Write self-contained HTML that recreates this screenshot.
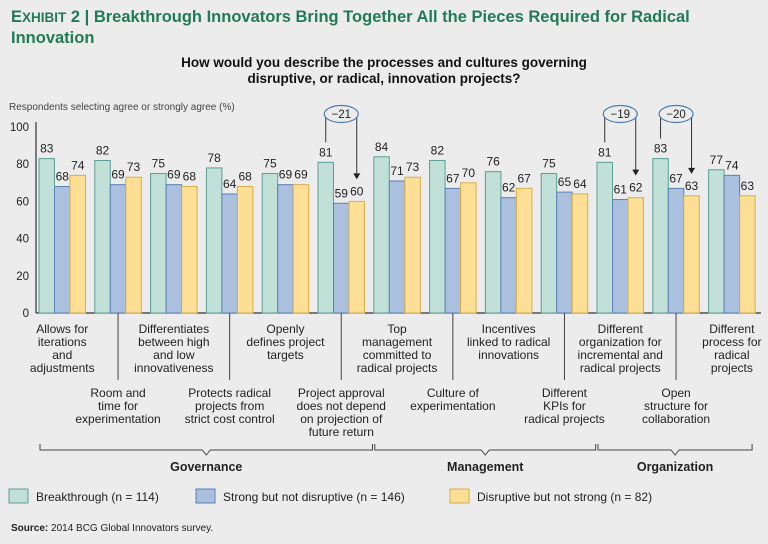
<!DOCTYPE html>
<html><head><meta charset="utf-8"><style>
body{margin:0;background:#ececec;}
svg{display:block;font-family:"Liberation Sans",sans-serif;}
</style></head><body>
<svg id="chart" width="768" height="544" viewBox="0 0 768 544">
<rect width="768" height="544" fill="#ececec"/>
<text x="11" y="22" font-size="16.5" font-weight="bold" fill="#217a58"><tspan>E</tspan><tspan font-size="13.5">XHIBIT</tspan> 2 | Breakthrough Innovators Bring Together All the Pieces Required for Radical</text>
<text x="11" y="43" font-size="16.5" font-weight="bold" fill="#217a58">Innovation</text>
<text x="384" y="67" font-size="13.5" font-weight="bold" text-anchor="middle" fill="#111">How would you describe the processes and cultures governing</text>
<text x="384" y="83" font-size="13.5" font-weight="bold" text-anchor="middle" fill="#111">disruptive, or radical, innovation projects?</text>
<text x="9" y="110" font-size="10" fill="#444">Respondents selecting agree or strongly agree (%)</text>
<g id="plot"></g>
<text x="11" y="531" font-size="10" fill="#222"><tspan font-weight="bold">Source:</tspan> 2014 BCG Global Innovators survey.</text>
</svg>
<script>
const categories=["Allows for iterations and adjustments","Room and time for experimentation","Differentiates between high and low innovativeness","Protects radical projects from strict cost control","Openly defines project targets","Project approval does not depend on projection of future return","Top management committed to radical projects","Culture of experimentation","Incentives linked to radical innovations","Different KPIs for radical projects","Different organization for incremental and radical projects","Open structure for collaboration","Different process for radical projects"];
const breakthrough=[83,82,75,78,75,81,84,82,76,75,81,83,77];
const strongNotDisruptive=[68,69,69,64,69,59,71,67,62,65,61,67,74];
const disruptiveNotStrong=[74,73,68,68,69,60,73,70,67,64,62,63,63];
const yTicks=[0,20,40,60,80,100];
const labelLines=[["Allows for","iterations","and","adjustments"],["Room and","time for","experimentation"],["Differentiates","between high","and low","innovativeness"],["Protects radical","projects from","strict cost control"],["Openly","defines project","targets"],["Project approval","does not depend","on projection of","future return"],["Top","management","committed to","radical projects"],["Culture of","experimentation"],["Incentives","linked to radical","innovations"],["Different","KPIs for","radical projects"],["Different","organization for","incremental and","radical projects"],["Open","structure for","collaboration"],["Different","process for","radical","projects"]];
const callouts=[{g:5,label:"\u221221"},{g:10,label:"\u221219"},{g:11,label:"\u221220"}];
const sections=[{name:"Governance",from:0,to:5},{name:"Management",from:6,to:9},{name:"Organization",from:10,to:12}];
const seriesNames=["Breakthrough (n = 114)","Strong but not disruptive (n = 146)","Disruptive but not strong (n = 82)"];

const NS="http://www.w3.org/2000/svg";
const plot=document.getElementById('plot');
function el(tag,attrs,parent,text){const e=document.createElementNS(NS,tag);for(const k in attrs)e.setAttribute(k,attrs[k]);if(text!==undefined)e.textContent=text;(parent||plot).appendChild(e);return e;}
const y0=313,y100=127;
function yScale(v){return y0-(y0-y100)*v/100;}
const gx0=39,pitch=55.8,bw=15.5;
function xBar(g,s){return gx0+pitch*g+bw*s;}
const fills=["#c0e0d8","#aac0de","#fde095"],strokes=["#5d9f95","#5a82b4","#d9ad4c"];
const series=[breakthrough,strongNotDisruptive,disruptiveNotStrong];
let a=el('line',{x1:36,y1:y0,x2:761,y2:y0,stroke:'#333','stroke-width':1.2});


a=el('line',{x1:36,y1:y100-5,x2:36,y2:y0,stroke:'#333','stroke-width':1.2});


yTicks.forEach(t=>{const tx=el('text',{x:29,y:yScale(t)+4,'font-size':11.5,'text-anchor':'end',fill:'#222'},plot,String(t));

});
series.forEach((arr,s)=>{arr.forEach((v,g)=>{const x=xBar(g,s),y=yScale(v);
const r=el('rect',{x:x,y:y,width:bw,height:y0-y,fill:fills[s],stroke:strokes[s],'stroke-width':1});


const t=el('text',{x:x+bw/2,y:y-6,'font-size':12,'text-anchor':'middle',fill:'#222'},plot,String(v));

});});
categories.forEach((c,g)=>{const cx=xBar(g,1)+bw/2;
if(g%2===1){const l=el('line',{x1:cx,y1:y0,x2:cx,y2:380,stroke:'#444','stroke-width':1});

}
const baseY=g%2===0?333:397;
const t=el('text',{x:cx,y:baseY,'font-size':12,'text-anchor':'middle',fill:'#222'});


labelLines[g].forEach((ln,i)=>{el('tspan',{x:cx,dy:i===0?0:13},t,ln);});});
callouts.forEach(c=>{const xl=xBar(c.g,0)+bw/2,xr=xBar(c.g,2)+bw/2,cx=(xl+xr)/2,cy=114;
const gg=el('g',{});


el('line',{x1:xl,y1:cy,x2:xl,y2:yScale(breakthrough[c.g])-20,stroke:'#333','stroke-width':1},gg);
const yt=yScale(disruptiveNotStrong[c.g])-22;
el('line',{x1:xr,y1:cy,x2:xr,y2:yt-4,stroke:'#333','stroke-width':1},gg);
el('path',{d:`M${xr-3.5} ${yt-6}L${xr+3.5} ${yt-6}L${xr} ${yt}Z`,fill:'#222'},gg);
el('ellipse',{cx:cx,cy:cy,rx:17,ry:8.5,fill:'#ececec',stroke:'#4a7db0','stroke-width':1.2},gg);
el('text',{x:cx,y:cy+4,'font-size':11.5,'text-anchor':'middle',fill:'#222'},gg,c.label);});
sections.forEach((s,i)=>{const x1=xBar(s.from,0)+1,x2=xBar(s.to,2)+bw+(i===2?-3:8);const mx=(x1+x2)/2,y=450;
const p=el('path',{d:`M${x1} ${y-6}V${y}H${mx-4}L${mx} ${y+5}L${mx+4} ${y}H${x2}V${y-6}`,fill:'none',stroke:'#444','stroke-width':1});


const t=el('text',{x:mx,y:471,'font-size':12.5,'font-weight':'bold','text-anchor':'middle',fill:'#222'},plot,s.name);

});
const lx=[9,196,450];
seriesNames.forEach((n,s)=>{const r=el('rect',{x:lx[s],y:489,width:19,height:14,fill:fills[s],stroke:strokes[s],'stroke-width':1});


const t=el('text',{x:lx[s]+27,y:501,'font-size':12,fill:'#222'},plot,n);

});
</script>
</body></html>
